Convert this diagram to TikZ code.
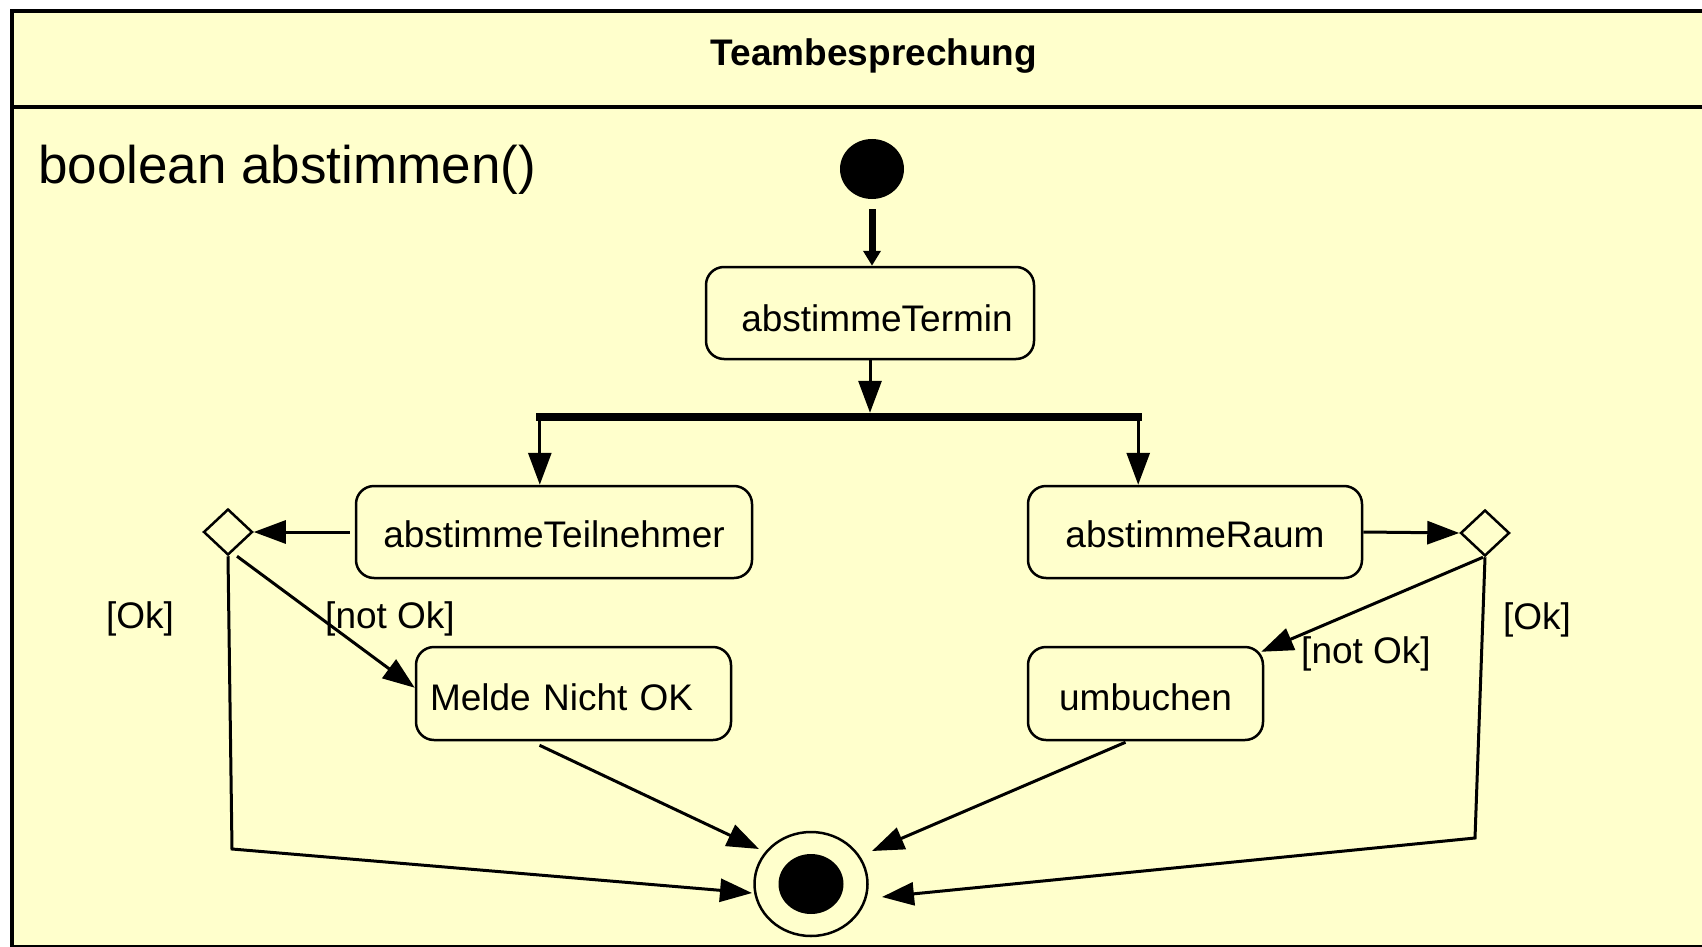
\documentclass[tikz,border=0pt]{standalone}
\usepackage{fontspec}
\setmainfont{Liberation Sans}
\usetikzlibrary{arrows.meta,shapes.geometric,calc}
\definecolor{uml}{HTML}{FFFFCC}
\begin{document}
\begin{tikzpicture}[x=1pt,y=-1pt,
  txt/.style={font=\fontsize{37pt}{44pt}\selectfont},
  state/.style={draw, line width=2.5pt, rounded corners=18pt, fill=uml, minimum height=92pt, inner sep=0pt, text height=31pt, text depth=0pt, txt},
  decision/.style={diamond, draw, line width=2.5pt, fill=uml, minimum width=49pt, minimum height=46pt, inner sep=0pt},
  arr/.style={line width=3pt, -{Triangle[length=32pt,width=23pt]}},
  initarr/.style={line width=7pt, -{Triangle[length=15pt,width=17pt]}}
]
\useasboundingbox (0,0) rectangle (1702,947);
\fill[white] (0,0) rectangle (1702,947);
% frame
\fill[uml] (12,11) rectangle (1720,950);
\draw[line width=4pt] (1720,11) -- (12,11) -- (12,947) -- (1720,947);
\draw[line width=4pt] (12,107) -- (1720,107);
\node[font=\bfseries\fontsize{37pt}{44pt}\selectfont, anchor=base] (title) at (874,66) {Teambesprechung};
\node[font=\fontsize{53pt}{60pt}\selectfont, anchor=base west, inner sep=0pt] (sig) at (38,183) {boolean abstimmen()};
% nodes
\node[ellipse, fill=black, minimum width=64pt, minimum height=60pt, inner sep=0pt] (init) at (872,169) {};
\node[state, minimum width=328pt, text height=36pt] (termin) at (870,313) {\hspace*{14pt}abstimmeTermin};
\node[fill=black, minimum width=606pt, minimum height=8pt, inner sep=0pt] (bar) at (839,417) {};
\node[state, minimum width=396pt] (teil) at (554,532) {abstimmeTeilnehmer};
\node[state, minimum width=334pt] (raum) at (1195,532) {abstimmeRaum};
\node[state, minimum height=93pt, text width=287pt, align=left, inner xsep=14pt, text height=34pt] (melde) at (573.5,693.5) {Melde Nicht OK};
\node[state, minimum width=235pt, minimum height=93pt, text height=34pt] (umb) at (1145.5,693.5) {umbuchen};
\node[decision] (dl) at (228,532) {};
\node[decision] (dr) at (1485,533) {};
\node[ellipse, draw, line width=2.5pt, fill=uml, minimum width=113pt, minimum height=104pt, inner sep=0pt] (final) at (811,884) {};
\node[ellipse, fill=black, minimum width=65pt, minimum height=60pt, inner sep=0pt] (finaldot) at (final.center) {};
% connectors
\draw[initarr] ([yshift=-10pt]init.south) -- (init.south |- termin.north);
\draw[arr] (termin.south) -- (termin.south |- bar.north);
\draw[arr] ([xshift=4pt]bar.south west) -- ([xshift=4pt]bar.south west |- teil.north);
\draw[arr] ([xshift=-4pt]bar.south east) -- ([xshift=-4pt]bar.south east |- raum.north);
\draw[arr] ([xshift=-5pt]teil.west) -- (dl.east);
\draw[arr] (raum.east) -- (dr.west);
\draw[arr] ([xshift=9pt]dl.south) -- ([yshift=-42pt]melde.north west);
\coordinate (lc) at (232,849);
\draw[arr] (dl.south) -- (lc) -- ($(final.center)+(-59,9)$);
\draw[arr] ([xshift=-34pt,yshift=-4pt]melde.south) -- ($(final.center)+(-52,-35)$);
\draw[arr] ([xshift=-2pt]dr.south) -- ([xshift=-3pt,yshift=-6pt]umb.north east);
\coordinate (rc) at (1475,838);
\draw[arr] (dr.south) -- (rc) -- ($(final.center)+(71,13)$);
\draw[arr] ([xshift=-20pt,yshift=-1pt]umb.south) -- ($(final.center)+(61,-33)$);
% labels
\node[txt] (okl) at (140,619) {[Ok]};
\node[txt] (nokl) at (390,619) {[not Ok]};
\node[txt] (nokr) at (1366,654) {[not Ok]};
\node[txt] (okr) at (1537,620) {[Ok]};
\end{tikzpicture}
\end{document}
